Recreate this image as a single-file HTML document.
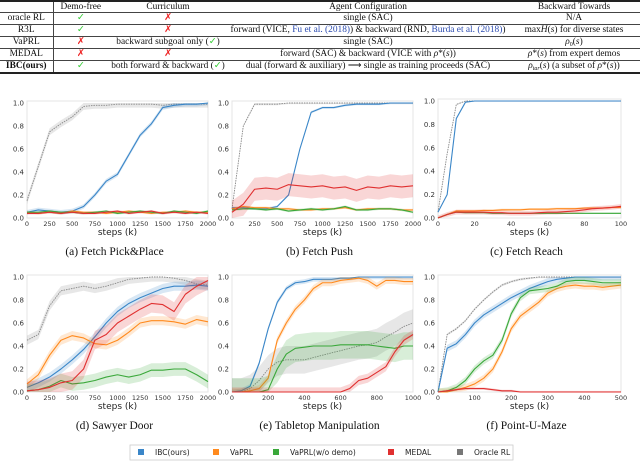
<!DOCTYPE html>
<html><head><meta charset="utf-8">
<style>
body{margin:0;background:#fff;width:640px;height:461px;overflow:hidden;position:relative;font-family:"Liberation Serif",serif}
table{position:absolute;left:0;top:0;width:640px;border-collapse:collapse;font-size:9.4px;color:#111;table-layout:fixed}
td,th{font-weight:normal;text-align:center;height:11px;padding:0;line-height:11px;white-space:nowrap;overflow:hidden}
th{height:10px;line-height:10px}
tr{border-bottom:0.8px solid #444}
sub{line-height:0;font-size:6px;vertical-align:-2px}
.lab{border-right:0.8px solid #444;width:53px}
.g{color:#3c3}.r{color:#e22}.b{color:#2a4ab0}
svg{position:absolute;left:0;top:0}
</style></head><body>
<table style="border-top:2px solid #222;border-bottom:2px solid #222">
<colgroup><col style="width:53px"><col style="width:55px"><col style="width:120px"><col style="width:280px"><col></colgroup>
<tr><th class="lab"></th><th>Demo-free</th><th>Curriculum</th><th>Agent Configuration</th><th>Backward Towards</th></tr>
<tr><td class="lab">oracle RL</td><td class="g">✓</td><td class="r">✗</td><td>single (SAC)</td><td>N/A</td></tr>
<tr><td class="lab">R3L</td><td class="g">✓</td><td class="r">✗</td><td>forward (VICE, <span class="b">Fu et al. (2018)</span>) &amp; backward (RND, <span class="b">Burda et al. (2018)</span>)</td><td>max<i>H</i>(<i>s</i>) for diverse states</td></tr>
<tr><td class="lab">VaPRL</td><td class="r">✗</td><td>backward subgoal only (<span class="g">✓</span>)</td><td>single (SAC)</td><td><i>ρ</i><sub>0</sub>(<i>s</i>)</td></tr>
<tr style="border-bottom:1.5px double #444"><td class="lab">MEDAL</td><td class="r">✗</td><td class="r">✗</td><td>forward (SAC) &amp; backward (VICE with <i>ρ</i>*(<i>s</i>))</td><td><i>ρ</i>*(<i>s</i>) from expert demos</td></tr>
<tr><td class="lab"><b>IBC(ours)</b></td><td class="g">✓</td><td>both forward &amp; backward (<span class="g">✓</span>)</td><td>dual (forward &amp; auxiliary) ⟶ single as training proceeds (SAC)</td><td><i>ρ<sub>tar</sub></i>(<i>s</i>) (a subset of <i>ρ</i>*(<i>s</i>))</td></tr>
</table>
<svg id="fig" width="640" height="461"></svg>
<script>
const aX=[0,2000,125];
const aOracle=[0.15,0.45,0.75,0.82,0.88,0.97,0.98,0.98,0.99,0.99,0.99,0.99,0.98,0.99,0.99,0.99,0.99];
const aIBC=[0.05,0.07,0.06,0.05,0.06,0.1,0.2,0.32,0.38,0.55,0.72,0.82,0.96,0.98,0.99,0.99,1.0];
const aVaPRL=[0.05,0.04,0.05,0.04,0.06,0.05,0.05,0.04,0.05,0.06,0.05,0.04,0.05,0.05,0.06,0.05,0.05];
const aNoDemo=[0.05,0.05,0.06,0.05,0.05,0.04,0.05,0.06,0.04,0.05,0.06,0.05,0.04,0.06,0.05,0.04,0.06];
const aMEDAL=[0.04,0.04,0.05,0.04,0.05,0.04,0.04,0.05,0.06,0.04,0.05,0.06,0.04,0.05,0.04,0.05,0.04];
const bX=[0,2000,125];
const bOracle=[0.08,0.8,0.99,0.99,0.99,1,1,1,1,1,1,1,1,1,1,1,1];
const bIBC=[0.09,0.09,0.08,0.08,0.1,0.2,0.6,0.92,0.96,0.96,0.98,0.99,0.99,0.99,1,1,1];
const bVaPRL=[0.08,0.1,0.09,0.09,0.08,0.08,0.07,0.07,0.08,0.08,0.09,0.07,0.08,0.08,0.08,0.07,0.07];
const bNoDemo=[0.07,0.08,0.08,0.07,0.08,0.06,0.07,0.08,0.07,0.08,0.1,0.07,0.07,0.08,0.08,0.07,0.05];
const bMEDAL=[0.05,0.12,0.25,0.26,0.25,0.29,0.28,0.27,0.28,0.26,0.27,0.24,0.27,0.26,0.28,0.27,0.28];
const cX=[0,100,5];
const cOracle=[0.05,0.55,0.97,1,1,1,1,1,1,1,1,1,1,1,1,1,1,1,1,1,1];
const cIBC=[0.05,0.2,0.85,0.99,1,1,1,1,1,1,1,1,1,1,1,1,1,1,1,1,1];
const cVaPRL=[0,0.03,0.06,0.06,0.06,0.065,0.065,0.07,0.07,0.07,0.075,0.075,0.075,0.08,0.08,0.08,0.085,0.085,0.085,0.09,0.09];
const cNoDemo=[0,0.03,0.05,0.045,0.045,0.045,0.04,0.04,0.04,0.04,0.04,0.04,0.04,0.04,0.04,0.04,0.04,0.04,0.04,0.04,0.04];
const cMEDAL=[0,0.03,0.05,0.05,0.05,0.05,0.045,0.045,0.04,0.04,0.04,0.045,0.05,0.05,0.055,0.06,0.07,0.08,0.085,0.09,0.1];
const dX=[0,2000,125];
const dOracle=[0.45,0.5,0.75,0.88,0.9,0.92,0.9,0.92,0.95,0.98,0.99,1,1,0.99,0.97,0.94,0.93];
const dIBC=[0.04,0.08,0.13,0.2,0.28,0.37,0.48,0.6,0.7,0.77,0.82,0.86,0.9,0.92,0.92,0.93,0.92];
const dVaPRL=[0.07,0.15,0.32,0.45,0.49,0.47,0.42,0.41,0.45,0.52,0.6,0.62,0.62,0.61,0.59,0.63,0.61];
const dNoDemo=[0.01,0.02,0.05,0.1,0.07,0.08,0.1,0.13,0.15,0.13,0.15,0.19,0.19,0.2,0.2,0.15,0.09];
const dMEDAL=[0.01,0.02,0.04,0.08,0.1,0.2,0.45,0.5,0.6,0.66,0.72,0.77,0.76,0.7,0.85,0.92,0.97];
const eX=[0,1000,50];
const eOracle=[0,0,0.03,0.1,0.2,0.26,0.28,0.28,0.28,0.3,0.32,0.34,0.36,0.38,0.4,0.41,0.43,0.48,0.52,0.57,0.6];
const eIBC=[0,0.01,0.05,0.25,0.55,0.78,0.9,0.95,0.96,0.98,0.98,0.98,0.99,0.99,1,1,1,1,1,1,1];
const eVaPRL=[0,0,0.01,0.03,0.12,0.45,0.6,0.72,0.8,0.9,0.95,0.95,0.97,0.98,0.99,0.97,0.92,0.97,0.97,0.96,0.96];
const eNoDemo=[0,0,0,0,0.02,0.2,0.33,0.38,0.39,0.4,0.4,0.4,0.41,0.41,0.41,0.41,0.4,0.39,0.38,0.4,0.4];
const eMEDAL=[0,0,0,0,0,0,0,0,0,0,0,0,0,0.03,0.1,0.12,0.17,0.22,0.35,0.45,0.5];
const fX=[0,500,25];
const fOracle=[0,0.5,0.55,0.62,0.72,0.8,0.87,0.93,0.96,0.98,0.99,1,1,1,1,1,1,1,1,1,1];
const fIBC=[0,0.38,0.42,0.5,0.6,0.67,0.72,0.77,0.82,0.86,0.9,0.93,0.96,0.98,0.99,1,1,1,1,1,1];
const fVaPRL=[0,0,0.02,0.04,0.07,0.12,0.2,0.35,0.55,0.66,0.72,0.78,0.86,0.9,0.92,0.93,0.92,0.92,0.91,0.92,0.93];
const fNoDemo=[0,0.01,0.04,0.1,0.2,0.27,0.32,0.45,0.68,0.82,0.88,0.89,0.9,0.92,0.96,0.97,0.97,0.96,0.95,0.95,0.95];
const fMEDAL=[0,0.01,0.02,0.03,0.03,0.03,0.02,0.01,0.01,0,0,0,0,0,0,0,0,0,0,0,0];
const xTicksA=[0,250,500,750,1000,1250,1500,1750,2000];
const xTicksC=[0,20,40,60,80,100];
const xTicksE=[0,200,400,600,800,1000];
const xTicksF=[0,100,200,300,400,500];
const yTicks=[0,0.2,0.4,0.6,0.8,1.0];
const captions=["(a)  Fetch Pick&Place","(b)  Fetch Push","(c)  Fetch Reach","(d)  Sawyer Door","(e)  Tabletop Manipulation","(f)  Point-U-Maze"];
const legendNames=["IBC(ours)","VaPRL","VaPRL(w/o demo)","MEDAL","Oracle RL"];

const C={IBC:"#3a86c8",VaPRL:"#ff8a1e",NoDemo:"#3aa83a",MEDAL:"#e03030",Oracle:"#888"};
const svg=document.getElementById('fig');
const NS="http://www.w3.org/2000/svg";
function el(t,a,p){const e=document.createElementNS(NS,t);for(const k in a)e.setAttribute(k,a[k]);(p||svg).appendChild(e);return e;}
const panels=[
 {X:aX,s:[aOracle,aIBC,aVaPRL,aNoDemo,aMEDAL],bw:[0.03,0.02,0.01,0.01,0.01],ticks:xTicksA,x0:27,x1:208,y0:218,y1:103,cap:0},
 {X:bX,s:[bOracle,bIBC,bVaPRL,bNoDemo,bMEDAL],bw:[0.01,0.01,0.01,0.01,0.1],ticks:xTicksA,x0:232,x1:413,y0:218,y1:103,cap:1},
 {X:cX,s:[cOracle,cIBC,cVaPRL,cNoDemo,cMEDAL],bw:[0.005,0.005,0.01,0.005,0.02],ticks:xTicksC,x0:438,x1:621,y0:218,y1:101,cap:2},
 {X:dX,s:[dOracle,dIBC,dVaPRL,dNoDemo,dMEDAL],bw:[0.04,0.04,0.04,0.06,0.08],ticks:xTicksA,x0:27,x1:208,y0:392,y1:277,cap:3},
 {X:eX,s:[eOracle,eIBC,eVaPRL,eNoDemo,eMEDAL],bw:[0.12,0.02,0.03,0.12,0.04],ticks:xTicksE,x0:232,x1:413,y0:392,y1:277,cap:4},
 {X:fX,s:[fOracle,fIBC,fVaPRL,fNoDemo,fMEDAL],bw:[0.01,0.03,0.03,0.03,0.01],ticks:xTicksF,x0:438,x1:621,y0:392,y1:277,cap:5}];
const keys=["Oracle","IBC","VaPRL","NoDemo","MEDAL"];
const nm=["oracle-rl","ibc","vaprl","vaprl-no-demo","medal"];
panels.forEach((p,pi)=>{
 const g=el('g',{});
 
 
 const xs=v=>p.x0+(v-p.X[0])/(p.X[1]-p.X[0])*(p.x1-p.x0);
 const ys=v=>p.y0-v*(p.y0-p.y1);
 const fr=el('rect',{x:p.x0,y:p.y1-2,width:p.x1-p.x0,height:p.y0-p.y1+2,fill:"#fff",stroke:"#e4e4e4","stroke-width":1},g);
 
 
 yTicks.forEach(t=>{const tx=el('text',{x:p.x0-3,y:ys(t)+2.5,"text-anchor":"end","font-size":"7","font-family":"DejaVu Sans,sans-serif",fill:"#333"},g);tx.textContent=t.toFixed(1);
  
  });
 p.ticks.forEach(t=>{const tx=el('text',{x:xs(t),y:p.y0+8,"text-anchor":"middle","font-size":"6.5","font-family":"DejaVu Sans,sans-serif",fill:"#333"},g);tx.textContent=t;
  
  });
 const xl=el('text',{x:(p.x0+p.x1)/2,y:p.y0+17,"text-anchor":"middle","font-size":"9","font-family":"DejaVu Sans,sans-serif",fill:"#222"},g);xl.textContent="steps (k)";
 
 
 const cp=el('text',{x:(p.x0+p.x1)/2-3,y:p.y0+37,"text-anchor":"middle","font-size":"11.5","font-family":"Liberation Serif,serif",fill:"#111"},g);cp.textContent=captions[p.cap];
 
 
 p.s.forEach((arr,si)=>{
  const step=p.X[2],col=C[keys[si]],bw=p.bw[si];
  const up=arr.map((v,i)=>xs(p.X[0]+i*step)+","+ys(Math.min(1.0,v+bw)));
  const dn=arr.map((v,i)=>xs(p.X[0]+i*step)+","+ys(Math.max(0,v-bw))).reverse();
  const band=el('polygon',{points:up.concat(dn).join(" "),fill:col,"fill-opacity":0.2,stroke:"none"},g);
  
  
  const pts=arr.map((v,i)=>xs(p.X[0]+i*step)+","+ys(v)).join(" ");
  const ln=el('polyline',{points:pts,fill:"none",stroke:col,"stroke-width":si==0?0.9:1.1,"stroke-dasharray":si==0?"1.5,1":"none","stroke-linejoin":"round"},g);
  
  
 });
});
const lg=el('g',{});


el('rect',{x:130,y:445,width:383,height:15,fill:"#fff",stroke:"#ccc","stroke-width":0.8},lg);
const lcol=[C.IBC,C.VaPRL,C.NoDemo,C.MEDAL,"#777"];
const lx=[138,213,273,388,457];
legendNames.forEach((n,i)=>{
 const sq=el('rect',{x:lx[i],y:449,width:6,height:6,fill:lcol[i]},lg);
 
 
 const t=el('text',{x:lx[i]+17,y:455,"font-size":"7.5","font-family":"DejaVu Sans,sans-serif",fill:"#222"},lg);t.textContent=n;
 
 
});
</script>
</body></html>
